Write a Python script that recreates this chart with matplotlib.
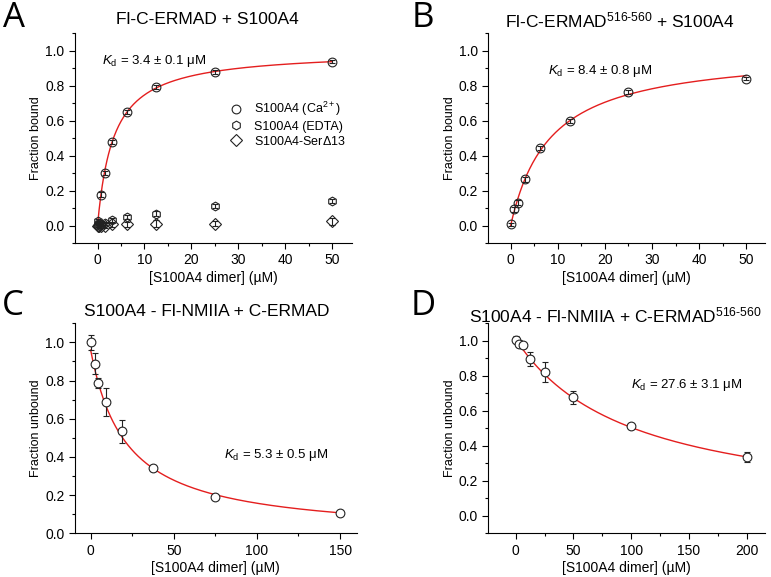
import numpy as np
import matplotlib
matplotlib.use("Agg")
import matplotlib.pyplot as plt
from matplotlib.ticker import MultipleLocator

plt.rcParams['font.family'] = ['Liberation Sans', 'DejaVu Sans']
plt.rcParams['mathtext.fontset'] = 'custom'
plt.rcParams['mathtext.rm'] = 'Liberation Sans'
plt.rcParams['mathtext.it'] = 'Liberation Sans:italic'
plt.rcParams['mathtext.bf'] = 'Liberation Sans:bold'

# ---------------- data ----------------
# Panel A
a_x = [0, 0.78, 1.56, 3.125, 6.25, 12.5, 25, 50]
a_ca = [0.005, 0.177, 0.302, 0.475, 0.647, 0.792, 0.875, 0.937]
a_ca_err = [0.015, 0.012, 0.012, 0.012, 0.012, 0.012, 0.012, 0.01]
a_edta_x = [0, 0.39, 0.78, 1.56, 3.125, 6.25, 12.5, 25, 50]
a_edta = [0.025, 0.012, 0.01, 0.012, 0.029, 0.048, 0.067, 0.112, 0.138]
a_edta_err = [0.01, 0.01, 0.01, 0.01, 0.012, 0.012, 0.015, 0.012, 0.012]
a_ser_x = [0, 0.39, 0.78, 1.56, 3.125, 6.25, 12.5, 25, 50]
a_ser = [0.0, -0.003, -0.005, 0.0, 0.006, 0.006, 0.01, 0.01, 0.023]
a_ser_err = [0.01, 0.012, 0.012, 0.012, 0.015, 0.015, 0.02, 0.015, 0.018]
a_kd = 3.4

# Panel B
b_x = [0, 0.78, 1.56, 3.125, 6.25, 12.5, 25, 50]
b_y = [0.006, 0.092, 0.131, 0.264, 0.442, 0.598, 0.763, 0.84]
b_err = [0.01, 0.015, 0.015, 0.015, 0.012, 0.012, 0.012, 0.008]
b_kd = 8.4

# Panel C
c_x = [0, 2.34, 4.69, 9.375, 18.75, 37.5, 75, 150]
c_y = [1.0, 0.889, 0.789, 0.687, 0.535, 0.342, 0.19, 0.107]
c_err = [0.04, 0.053, 0.026, 0.075, 0.061, 0.015, 0.01, 0.01]
c_fit_top, c_fit_k, c_fit_base = 0.96, 21.5, -0.015

# Panel D
d_x = [0, 3.125, 6.25, 12.5, 25, 50, 100, 200]
d_y = [1.007, 0.984, 0.975, 0.896, 0.821, 0.677, 0.513, 0.335]
d_err = [0.02, 0.02, 0.015, 0.042, 0.058, 0.037, 0.01, 0.029]
d_fit_top, d_fit_k, d_fit_base = 1.01, 100.0, 0.0

titles = ['Fl-C-ERMAD + S100A4',
          'Fl-C-ERMAD$^{\\rm 516\u2010560}$ + S100A4',
          'S100A4 - Fl-NMIIA + C-ERMAD',
          'S100A4 - Fl-NMIIA + C-ERMAD$^{\\rm 516\u2010560}$']
kd_texts = [r'$\it{K}_{\rm d}$ = 3.4 $\pm$ 0.1 $\rm\mu$M',
            r'$\it{K}_{\rm d}$ = 8.4 $\pm$ 0.8 $\rm\mu$M',
            r'$\it{K}_{\rm d}$ = 5.3 $\pm$ 0.5 $\rm\mu$M',
            r'$\it{K}_{\rm d}$ = 27.6 $\pm$ 3.1 $\rm\mu$M']
leg_lab = [r'S100A4 (Ca$^{2+}$)', 'S100A4 (EDTA)', r'S100A4-Ser$\Delta$13']

RED = '#e41e1e'
EDGE = '#222222'
fig = plt.figure(figsize=(7.71, 5.77), dpi=100)
W, H = 771, 577

def mkax(l, r, t, b):
    return fig.add_axes([l / W, (H - b) / H, (r - l) / W, (b - t) / H])

def style(ax, xlim, ylim, xmaj, xmin, ylabel):
    ax.set_xlim(*xlim)
    ax.set_ylim(*ylim)
    ax.spines['top'].set_visible(False)
    ax.spines['right'].set_visible(False)
    for s in ('left', 'bottom'):
        ax.spines[s].set_linewidth(0.8)
    ax.xaxis.set_major_locator(MultipleLocator(xmaj))
    ax.xaxis.set_minor_locator(MultipleLocator(xmin))
    ax.yaxis.set_minor_locator(MultipleLocator(0.1))
    ax.tick_params(which='both', direction='out', labelsize=10, width=0.8)
    ax.tick_params(which='major', length=4)
    ax.tick_params(which='minor', length=2.5)
    yt = np.arange(0, 1.01, 0.2)
    ax.set_yticks(yt)
    ax.set_yticklabels(['%.1f' % t for t in yt])
    ax.set_xlabel('[S100A4 dimer] (\u00b5M)', fontsize=10, labelpad=2.5)
    ax.set_ylabel(ylabel, fontsize=9, labelpad=2)

def pts(ax, x, y, err, marker='o', fc='none', z=3):
    ax.errorbar(x, y, yerr=err, fmt='none', ecolor=EDGE, elinewidth=0.8,
                capsize=2.5, capthick=0.8, zorder=z)
    ax.plot(x, y, linestyle='none', marker=marker, ms=6.3, mfc=fc, mec=EDGE,
            mew=0.8, zorder=z + 1)

# ---- A
axA = mkax(75, 352, 33, 243)
style(axA, (-4.8, 54.2), (-0.1, 1.1), 10, 5, 'Fraction bound')
xa = np.linspace(0, 50, 300)
axA.plot(xa, xa / (a_kd + xa), color=RED, lw=1.0, zorder=2)
pts(axA, a_edta_x, a_edta, a_edta_err, marker='h')
pts(axA, a_ser_x, a_ser, a_ser_err, marker='D')
pts(axA, a_x, a_ca, a_ca_err, marker='o')
axA.text(0.9, 0.94, kd_texts[0], fontsize=9.5, va='center')
handles = [axA.plot([], [], linestyle='none', marker=m, ms=6.3, mfc='none', mec=EDGE, mew=0.8)[0]
           for m in ['o', 'h', 'D']]
axA.legend(handles, leg_lab, loc='upper left', bbox_to_anchor=(0.535, 0.71), frameon=False,
           fontsize=9, handlelength=1.0, handletextpad=1.0, labelspacing=0.18, borderpad=0)

# ---- B
axB = mkax(488.3, 765, 33, 243)
style(axB, (-4.75, 54.0), (-0.1, 1.1), 10, 5, 'Fraction bound')
xb = np.linspace(0, 50, 300)
axB.plot(xb, xb / (b_kd + xb), color=RED, lw=1.0, zorder=2)
pts(axB, b_x, b_y, b_err, marker='o')
axB.text(8.0, 0.885, kd_texts[1], fontsize=9.5, va='center')

# ---- C
axC = mkax(75, 356.7, 323.3, 533.3)
style(axC, (-9.4, 160), (0, 1.1), 50, 25, 'Fraction unbound')
xc = np.linspace(0, 150, 300)
axC.plot(xc, c_fit_base + (c_fit_top - c_fit_base) * c_fit_k / (c_fit_k + xc), color=RED, lw=1.0, zorder=2)
pts(axC, c_x, c_y, c_err, marker='o', fc='white')
axC.text(80, 0.41, kd_texts[2], fontsize=9.5, va='center')

# ---- D
axD = mkax(488.3, 765, 323.3, 533.3)
style(axD, (-23.7, 216), (-0.1, 1.1), 50, 25, 'Fraction unbound')
xd = np.linspace(0, 200, 300)
axD.plot(xd, d_fit_base + (d_fit_top - d_fit_base) * d_fit_k / (d_fit_k + xd), color=RED, lw=1.0, zorder=2)
pts(axD, d_x, d_y, d_err, marker='o', fc='white')
axD.text(100, 0.75, kd_texts[3], fontsize=9.5, va='center')

# titles
for t, x, y in zip(titles, [207, 620, 207, 615], [20, 20, 312, 315]):
    fig.text(x / W, 1 - y / H, t, fontsize=12.5, ha='center', va='center')

# panel letters
for lab, x, y in [('A', 14, 18), ('B', 423, 18), ('C', 13, 306), ('D', 423, 306)]:
    fig.text(x / W, 1 - y / H, lab, fontsize=25, family=['Open Sans', 'DejaVu Sans'],
             ha='center', va='center')

fig.savefig('out.png', dpi=100)
